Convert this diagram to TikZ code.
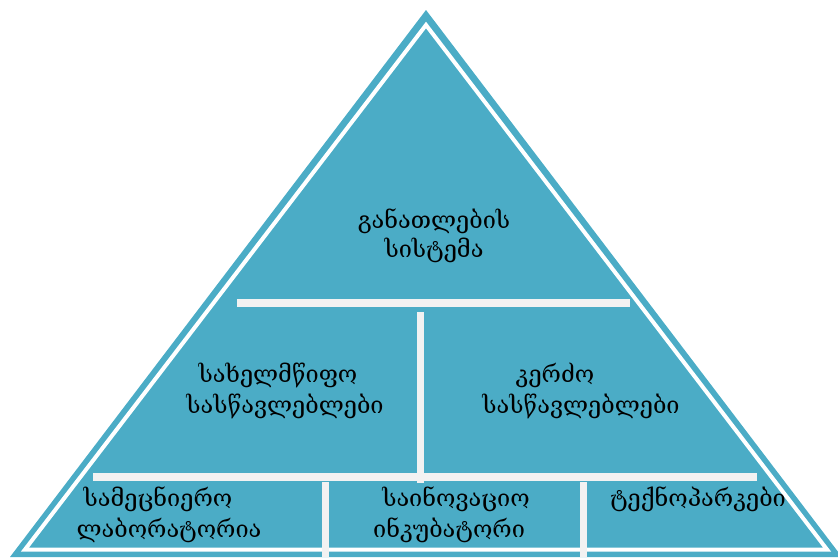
\documentclass[tikz,border=0pt]{standalone}
\usepackage{fontspec}
\newfontfamily\geo{DejaVu Serif}
\definecolor{triblue}{HTML}{4BACC6}
\definecolor{barwhite}{HTML}{F2F2F2}
\begin{document}
\begin{tikzpicture}[x=1pt,y=-1pt,
  lbl/.style={anchor=base,inner sep=0pt,font=\geo\fontsize{23.5}{28}\selectfont,text=black},
  bar/.style={fill=barwhite,draw=none}]
\useasboundingbox (0,0) rectangle (838,557);
\clip (0,0) rectangle (838,557);
% outer triangle
\fill[triblue] (426,10) -- (842,557) -- (10,557) -- cycle;
% inner white outline
\draw[white,line width=4pt,line join=miter] (426,25) -- (827,549.5) -- (25,549.5) -- cycle;
% bars
\fill[bar] (237,299) rectangle (630,307);
\fill[bar] (417,312) rectangle (424,483);
\fill[bar] (93,473) rectangle (757,481);
\fill[bar] (322,482) rectangle (329,557);
\fill[bar] (580,482) rectangle (587,557);
% texts
\node[lbl] (t1) at (434,228) {განათლების};
\node[lbl] (t2) at (434,257) {სისტემა};
\node[lbl] (l1) at (278,382) {სახელმწიფო};
\node[lbl] (l2) at (285,413) {სასწავლებლები};
\node[lbl] (r1) at (555,382) {კერძო};
\node[lbl] (r2) at (581,413) {სასწავლებლები};
\node[lbl] (a1) at (158,506) {სამეცნიერო};
\node[lbl] (a2) at (169,537) {ლაბორატორია};
\node[lbl] (b1) at (456,506) {საინოვაციო};
\node[lbl] (b2) at (449,537) {ინკუბატორი};
\node[lbl] (c1) at (698,506) {ტექნოპარკები};
\end{tikzpicture}
\end{document}
